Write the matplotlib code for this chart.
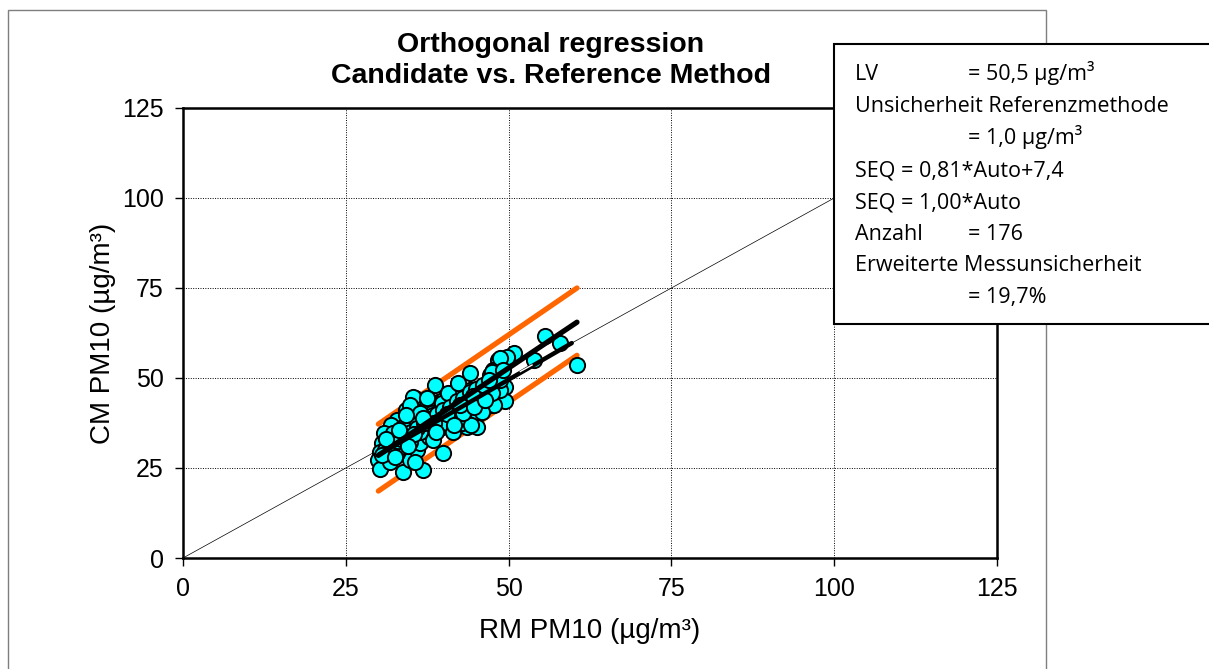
import numpy as np
import matplotlib.pyplot as plt
from matplotlib.patches import Rectangle

# RM PM10 (x) and CM PM10 (y)
rm = [55.6, 57.9, 60.5, 53.9, 50.8, 49.5, 48.4, 44.1, 49.4, 49.5,
      47.4, 48.2, 47.1, 47.4, 38.7, 42.2, 40.7, 35.6, 37.4, 39.1,
      39.9, 36.4, 34.3, 32.8, 32.0, 30.8, 30.5, 30.3, 30.0, 30.3,
      33.8, 36.9, 40.0, 34.9, 32.8, 35.9, 32.3, 34.3, 36.1, 37.4,
      39.0, 41.0, 42.5, 43.0, 44.8, 45.1, 44.6, 46.1, 45.6, 47.4,
      48.7, 46.6, 41.5, 43.0, 37.4, 38.2, 35.6, 33.8, 32.3, 33.3,
      31.3, 31.8, 35.6, 36.4, 37.7, 39.5, 40.5, 42.0, 43.6, 42.5,
      40.0, 44.1, 47.6, 48.7, 35.3, 37.4, 41.0, 39.7, 34.9, 43.8,
      36.4, 34.3, 38.4, 43.0, 45.1, 42.8, 44.3, 36.4, 41.5, 38.4,
      34.9, 49.7, 48.7, 47.4, 49.2, 47.7, 47.4, 44.8, 42.8, 40.7,
      42.3, 40.5, 43.0, 45.9, 31.0, 32.0, 33.0, 34.0, 35.0, 36.0,
      37.0, 38.0, 39.0, 40.0, 41.0, 42.0, 43.0, 44.0, 45.0, 46.0,
      47.0, 31.5, 33.5, 35.5, 38.5, 40.5, 42.5, 44.5, 30.6, 31.2,
      32.5, 33.2, 34.6, 36.8, 38.9, 41.6, 44.7, 46.4]
cm = [61.7, 59.7, 53.6, 55.0, 56.9, 55.5, 55.0, 51.4, 47.5, 43.6,
      42.5, 51.4, 50.9, 48.6, 48.1, 47.5, 45.6, 44.4, 44.2, 43.3,
      41.0, 40.2, 41.1, 38.3, 36.9, 34.6, 31.9, 29.5, 27.2, 24.6,
      24.0, 24.4, 29.1, 27.2, 29.1, 30.0, 31.9, 33.7, 35.1, 36.5,
      38.3, 40.2, 40.2, 38.3, 38.8, 36.5, 40.6, 43.0, 45.7, 45.3,
      46.7, 47.6, 43.0, 43.4, 42.0, 40.2, 38.3, 36.5, 34.6, 30.9,
      30.0, 26.8, 26.8, 31.9, 33.7, 36.0, 37.4, 38.3, 36.5, 42.0,
      43.9, 46.7, 52.2, 49.4, 44.8, 44.4, 43.4, 43.0, 42.5, 42.5,
      40.2, 39.7, 39.7, 40.2, 40.6, 37.4, 36.9, 35.1, 35.1, 32.8,
      32.3, 55.9, 55.5, 51.8, 52.2, 42.5, 45.7, 44.4, 45.3, 45.7,
      48.5, 40.6, 40.2, 40.6, 30.0, 31.5, 32.5, 34.0, 35.0, 36.0,
      37.5, 38.5, 40.0, 41.0, 42.0, 43.5, 44.5, 46.0, 47.0, 48.0,
      49.5, 29.5, 33.0, 34.5, 37.5, 40.0, 42.5, 45.0, 28.5, 33.0,
      28.0, 35.5, 31.0, 39.0, 35.0, 37.0, 42.0, 44.0]

# line end points
upper_x = [30.0, 60.5]
upper_y = [37.2, 75.0]
lower_x = [30.0, 60.5]
lower_y = [18.6, 56.3]
reg_x = [30.0, 60.5]
reg_y = [28.5, 65.5]
seq_x = [30.0, 59.7]
seq_y = [28.6, 59.7]
gap_x = [51.8, 53.6]
gap_y = [51.8, 53.6]

ticks = [0, 25, 50, 75, 100, 125]

W, H = 1209, 669
fig = plt.figure(figsize=(W / 100, H / 100), dpi=100)
ax = fig.add_axes([183 / W, 1 - 558 / H, (997 - 183) / W, (558 - 108) / H])

ax.plot([0, 125], [0, 125], color='black', lw=0.5, zorder=1)
ax.plot(upper_x, upper_y, color='#ff6600', lw=3.8, solid_capstyle='round', zorder=2)
ax.plot(lower_x, lower_y, color='#ff6600', lw=3.8, solid_capstyle='round', zorder=2)
ax.scatter(rm, cm, s=120, c='#00ffff', edgecolors='black', linewidths=1.4, zorder=3)
ax.plot(seq_x, seq_y, color='black', lw=3.2, solid_capstyle='round', zorder=4)
ax.plot(gap_x, gap_y, color='white', lw=1.0, zorder=4)
ax.plot(reg_x, reg_y, color='black', lw=3.8, solid_capstyle='round', zorder=5)

ax.set_xlim(0, 125)
ax.set_ylim(0, 125)
ax.set_xticks(ticks)
ax.set_yticks(ticks)
ax.grid(True, color='black', lw=0.7, linestyle=(0, (1, 1.5)))
ax.set_axisbelow(True)
for s in ax.spines.values():
    s.set_linewidth(1.8)
ax.tick_params(direction='out', length=6, width=1, labelsize=18, pad=8)
for lab in ax.get_xticklabels() + ax.get_yticklabels():
    lab.set_fontfamily('Liberation Sans')
ax.set_xlabel('RM PM10 (µg/m³)', fontsize=20, family='Liberation Sans', labelpad=12)
ax.set_ylabel('CM PM10 (µg/m³)', fontsize=20, family='Liberation Sans', labelpad=4)

# title
fig.text(551 / W, 1 - 45 / H, 'Orthogonal regression', ha='center', va='center',
         fontsize=20.5, fontweight='bold', family='Liberation Sans')
fig.text(551 / W, 1 - 76 / H, 'Candidate vs. Reference Method', ha='center', va='center',
         fontsize=20.5, fontweight='bold', family='Liberation Sans')

# outer frame
fig.patches.append(Rectangle((8 / W, -0.1), (1046 - 8) / W, 1.1 - 10 / H, transform=fig.transFigure,
                             fill=False, edgecolor='#7f7f7f', lw=1, zorder=0))

# info box
fig.patches.append(Rectangle((834 / W, 1 - 324 / H), (1215 - 834) / W, 280 / H,
                             transform=fig.transFigure, facecolor='white',
                             edgecolor='black', lw=1.5, zorder=6))
box_font = ['Open Sans', 'DejaVu Sans']
left_lines = ['LV', 'Unsicherheit Referenzmethode', '', 'SEQ = 0,81*Auto+7,4',
              'SEQ = 1,00*Auto', 'Anzahl', 'Erweiterte Messunsicherheit', '']
right_lines = ['= 50,5 µg/m³', '', '= 1,0 µg/m³', '', '', '= 176', '', '= 19,7%']
baselines = [80, 112, 144, 176, 208, 240, 271, 303]
for l, r, yb in zip(left_lines, right_lines, baselines):
    if l:
        fig.text(855 / W, 1 - yb / H, l, fontsize=15.5, family=box_font,
                 va='baseline', zorder=7)
    if r:
        fig.text(968 / W, 1 - yb / H, r, fontsize=15.5, family=box_font,
                 va='baseline', zorder=7)

fig.savefig('out.png', dpi=100)
